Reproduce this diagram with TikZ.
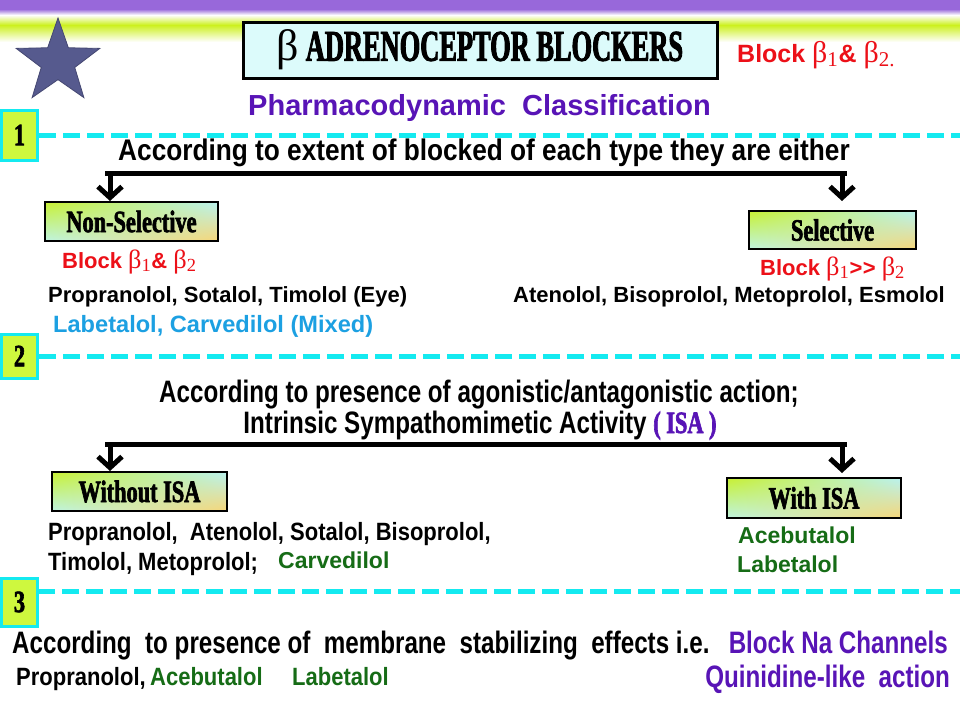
\documentclass[tikz,border=0pt]{standalone}
\usepackage{fontspec}
\setmainfont{Liberation Sans}
\newfontfamily\narrowfont[FakeStretch=0.88]{Liberation Sans}
\newfontfamily\condfont[FakeStretch=0.78]{Liberation Sans}
\newfontfamily\boxfont[FakeStretch=0.72,FakeBold=2]{Liberation Serif}
\newfontfamily\titlefont[FakeStretch=0.6,FakeBold=2]{Liberation Serif}
\newfontfamily\betafont{Liberation Serif}
\usetikzlibrary{shapes.geometric,shadings,arrows.meta,positioning}
\definecolor{classpurple}{RGB}{88,20,182}
\definecolor{blockred}{RGB}{236,16,24}
\definecolor{mixblue}{RGB}{28,160,226}
\definecolor{drugreen}{RGB}{22,108,22}
\definecolor{dashcyan}{RGB}{20,234,240}
\definecolor{numfill}{RGB}{206,248,62}
\definecolor{topviolet}{RGB}{152,104,218}
\definecolor{topgreen}{RGB}{204,240,30}
\definecolor{starblue}{RGB}{86,90,142}
\definecolor{titlefill}{RGB}{220,251,251}
\definecolor{boxul}{RGB}{200,240,50}
\definecolor{boxur}{RGB}{185,242,240}
\definecolor{boxll}{RGB}{190,244,225}
\definecolor{boxlr}{RGB}{246,214,120}
\newcommand\bet[1]{{\betafont\mdseries\scalebox{1.2}{β\textsubscript{#1}}}}
\tikzset{
  catbox/.style={draw,line width=2.5pt,inner sep=0pt,minimum height=39pt,
    upper left=boxul,upper right=boxur,lower left=boxll,lower right=boxlr,
    font=\fontsize{31}{33}\selectfont\boxfont\bfseries},
  numbox/.style={draw=dashcyan,fill=numfill,line width=3pt,inner sep=0pt,minimum width=36pt,
    font=\fontsize{31}{33}\selectfont\boxfont\bfseries},
  dashline/.style={dashcyan,line width=5pt,dash pattern=on 17pt off 7pt},
  bar/.style={line width=5pt},
  drop/.style={line width=5pt,-{Straight Barb[length=11pt,width=24pt]}},
  drug/.style={inner sep=0pt,anchor=base west,font=\fontsize{22}{26}\selectfont\bfseries},
  greendrug/.style={drug,text=drugreen,font=\fontsize{23}{26}\selectfont\bfseries},
  narrowdrug/.style={inner sep=0pt,anchor=base west,font=\fontsize{25}{28}\selectfont\narrowfont\bfseries},
  condhead/.style={inner sep=0pt,font=\fontsize{31}{34}\selectfont\condfont\bfseries}
}
\begin{document}
\begin{tikzpicture}[x=1pt,y=-1pt]
  \useasboundingbox (0,0) rectangle (960,720);
  \fill[white] (0,0) rectangle (960,720);
  \fill[topviolet] (0,0) rectangle (960,9);
  \shade[top color=topviolet,bottom color=white] (0,9) rectangle (960,15);
  \shade[top color=white,bottom color=topgreen] (0,15) rectangle (960,25);
  \shade[top color=topgreen,bottom color=white] (0,25) rectangle (960,42);

  \node[star,star points=5,star point ratio=2.5,minimum size=88pt,inner sep=0pt,
    fill=starblue,draw=starblue!80!black,line width=0.8pt] (star) at (58,62) {};
  \node[draw,line width=3pt,fill=titlefill,minimum width=474pt,minimum height=56pt,
    font=\fontsize{44}{46}\selectfont\titlefont\bfseries] (title) at (480,50) {{\betafont\mdseries β} ADRENOCEPTOR BLOCKERS};
  \node[inner sep=0pt,anchor=base west,text=blockred,font=\fontsize{25}{28}\selectfont\bfseries] (topblock) at (737,62) {Block \bet{1}\& \bet{2.}};
  \node[inner sep=0pt,anchor=base west,text=classpurple,font=\fontsize{29}{32}\selectfont\bfseries] (pharma) at (248,115) {Pharmacodynamic\ \ Classification};

  \coordinate (rim) at (960,0);
  \node[numbox,minimum height=50pt] (n1) at (19.5,135) {1};
  \node[numbox,minimum height=44pt] (n2) at (19.5,356) {2};
  \node[numbox,minimum height=48pt] (n3) at (19.5,602) {3};
  \coordinate (n3dash) at (38,591);
  \draw[dashline] (n1.east) -- (n1.east -| rim);
  \draw[dashline] (n2.east) -- (n2.east -| rim);
  \draw[dashline] (n3dash) -- (n3dash -| rim);

  \node[inner sep=0pt,anchor=base,font=\fontsize{29.8}{32}\selectfont\narrowfont\bfseries] (extent) at (484,160) {According to extent of blocked of each type they are either};
  \coordinate (b1l) at (105,173);
  \coordinate (b1r) at (847,173);
  \coordinate (d1l) at (110,173);
  \coordinate (d1r) at (842,173);
  \coordinate (t1l) at (110,201);
  \coordinate (t1r) at (842,201);
  \draw[bar] (b1l) -- (b1r);
  \draw[drop] (d1l) -- (t1l);
  \draw[drop] (d1r) -- (t1r);
  \node[catbox,minimum width=173pt] (nonsel) at (131.5,221.5) {Non-Selective};
  \node[catbox,minimum width=167pt,minimum height=38pt] (sel) at (832.5,230) {Selective};
  \node[drug,text=blockred] (nsblock) at (62,268) {Block \bet{1}\& \bet{2}};
  \node[drug] (nsdrugs) at (48,302) {Propranolol, Sotalol, Timolol (Eye)};
  \node[drug,text=mixblue,font=\fontsize{23.6}{26}\selectfont\bfseries] (mixed) at (53,332) {Labetalol, Carvedilol (Mixed)};
  \node[drug,text=blockred] (selblock) at (760,275) {Block \bet{1}>\kern0.5pt> \bet{2}};
  \node[drug] (seldrugs) at (513,302) {Atenolol,\ Bisoprolol, Metoprolol, Esmolol};

  \node[condhead,anchor=base] (agon) at (479,402) {According to presence of agonistic/antagonistic action;};
  \node[condhead,anchor=base] (isa) at (480,433) {Intrinsic Sympathomimetic Activity {\color{classpurple}\boxfont ( ISA )}};
  \coordinate (b2l) at (105,444);
  \coordinate (b2r) at (847,444);
  \coordinate (d2l) at (110,444);
  \coordinate (d2r) at (842,444);
  \coordinate (t2l) at (110,471);
  \coordinate (t2r) at (842,473);
  \draw[bar] (b2l) -- (b2r);
  \draw[drop] (d2l) -- (t2l);
  \draw[drop] (d2r) -- (t2r);
  \node[catbox,minimum width=175pt] (noisa) at (139.5,491.5) {Without ISA};
  \node[catbox,minimum width=174pt,minimum height=40pt] (withisa) at (814,498) {With ISA};
  \node[narrowdrug] (noisa1) at (48,540) {Propranolol,\ \ Atenolol, Sotalol, Bisoprolol,};
  \node[narrowdrug] (noisa2) at (48,570) {Timolol, Metoprolol;};
  \node[greendrug] (carv) at (278,568) {Carvedilol};
  \node[greendrug] (acebu) at (738,543) {Acebutalol};
  \node[greendrug] (labe) at (737,572) {Labetalol};

  \node[condhead,anchor=base west] (membrane) at (12,653) {According\ \ to presence of\ \ membrane\ \ stabilizing\ \ effects i.e.};
  \node[condhead,anchor=base east,text=classpurple] (nachan) at (948,653) {Block Na Channels};
  \node[condhead,anchor=base east,text=classpurple] (quin) at (950,687) {Quinidine-like\ \ action};
  \node[narrowdrug] (msprop) at (16,685) {Propranolol,};
  \node[narrowdrug,text=drugreen] (msacebu) at (150,685) {Acebutalol};
  \node[narrowdrug,text=drugreen] (mslabe) at (292,685) {Labetalol};
\end{tikzpicture}
\end{document}
